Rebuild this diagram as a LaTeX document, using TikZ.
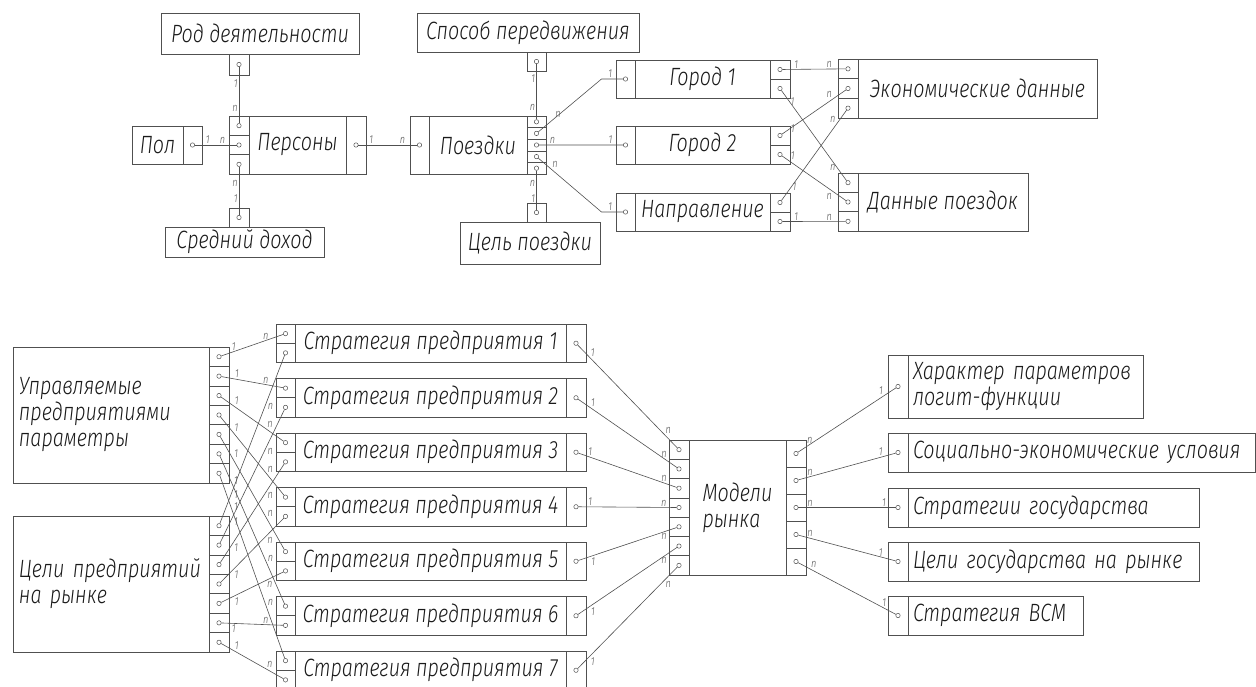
\documentclass[tikz,border=0pt]{standalone}
\usepackage{fontspec}
\newfontfamily\gost{Fira Sans Light Italic}[FakeStretch=0.79]
\usetikzlibrary{calc}
\definecolor{ln}{HTML}{505050}
\definecolor{tx}{HTML}{1A1A1A}
\tikzset{
  body/.style={draw=ln, line width=.6pt, inner sep=0pt, text=tx,
    font=\gost\fontsize{25}{26}\selectfont},
  cell/.style={draw=ln, line width=.6pt, inner sep=0pt},
  port/.style={circle, draw=ln, fill=white, line width=.5pt, inner sep=0pt, minimum size=4.4pt},
  wire/.style={draw=ln, line width=.6pt},
  lab/.style={inner sep=1pt, text=ln, font=\gost\fontsize{11.5}{11.5}\selectfont}
}
% a strip of cells, each with a port: name, x, top, height, count, width
\newcommand\portstrip[6]{%
  \pgfmathsetmacro\cellh{#4/#5}
  \foreach \i in {1,...,#5}{
    \node[cell, minimum width=#6pt, minimum height=\cellh pt] (#1c\i) at (#2,#3+\cellh*\i-\cellh/2) {};
    \node[port] (#1\i) at (#1c\i.center) {};
  }}
\begin{document}
\begin{tikzpicture}[x=1pt, y=-1pt]
\useasboundingbox (0,0) rectangle (1256,686);
% persons
\node[body, minimum width=198pt, minimum height=41pt] (rod) at (260,33.5) {Род деятельности};
\portstrip{rodB}{239}{54}{21}{1}{20}
\node[body, minimum width=97pt, minimum height=58pt] (pers) at (297.5,145) {Персоны};
\portstrip{persL}{239}{116}{58}{3}{20}
\portstrip{persR}{356}{116}{58}{1}{20}
\node[body, minimum width=51pt, minimum height=38pt] (pol) at (157.5,145) {Пол};
\portstrip{polR}{192.5}{126}{38}{1}{19}
\portstrip{sredT}{239}{208}{19}{1}{20}
\node[body, minimum width=159pt, minimum height=30pt] (sred) at (244.5,242) {Средний доход};
% trips
\node[body, minimum width=98pt, minimum height=58pt] (poez) at (478,145) {Поездки};
\portstrip{poezL}{419.5}{116}{58}{1}{19}
\portstrip{poezR}{536.5}{116}{58}{5}{19}
\node[body, minimum width=222pt, minimum height=39pt] (spos) at (528,32.5) {Способ передвижения};
\portstrip{sposB}{536.5}{52}{19}{1}{19}
\portstrip{celT}{536.5}{203}{19}{1}{19}
\node[body, minimum width=140pt, minimum height=42pt] (cel) at (530,243) {Цель поездки};
% cities and direction
\node[body, minimum width=135pt, minimum height=38pt] (gorA) at (702.5,79) {Город 1};
\portstrip{gorAL}{625.5}{60}{38}{1}{19}
\portstrip{gorAR}{780}{60}{38}{2}{20}
\node[body, minimum width=135pt, minimum height=38pt] (gorB) at (702.5,145) {Город 2};
\portstrip{gorBL}{625.5}{126}{38}{1}{19}
\portstrip{gorBR}{780}{126}{38}{2}{20}
\node[body, minimum width=135pt, minimum height=38pt] (napr) at (702.5,212) {Направление};
\portstrip{naprL}{625.5}{193}{38}{1}{19}
\portstrip{naprR}{780}{193}{38}{2}{20}
\node[body, minimum width=239pt, minimum height=59pt] (ekon) at (977.5,88.5) {Экономические данные};
\portstrip{ekonL}{848}{59}{59}{3}{20}
\node[body, minimum width=170pt, minimum height=58pt] (dan) at (943,202) {Данные поездок};
\portstrip{danL}{848}{173}{58}{3}{20}

\draw[wire] (rodB1) -- node[lab, pos=.3, left]{1} node[lab, pos=.73, left]{n} (persL1);
\draw[wire] (polR1) -- node[lab, pos=.31, above]{1} node[lab, pos=.66, above]{n} (persL2);
\draw[wire] (persL3) -- node[lab, pos=.35, left]{n} node[lab, pos=.67, left]{1} (sredT1);
\draw[wire] (persR1) -- node[lab, pos=.22, above]{1} node[lab, pos=.75, above]{n} (poezL1);
\draw[wire] (sposB1) -- node[lab, pos=.27, left]{1} node[lab, pos=.79, left]{n} (poezR1);
\draw[wire] (poezR2) -- node[lab, pos=.25, above right]{n} ([xshift=-24pt]gorAL1.center)
  -- node[lab, pos=.4, above]{1} (gorAL1);
\draw[wire] (poezR3) -- node[lab, pos=.16, above]{n} node[lab, pos=.85, above]{1} (gorBL1);
\draw[wire] (poezR4) -- node[lab, pos=.2, above right]{n} ([xshift=-24pt]naprL1.center)
  -- node[lab, pos=.4, above]{1} (naprL1);
\draw[wire] (poezR5) -- node[lab, pos=.33, left]{n} node[lab, pos=.72, left]{1} (celT1);
\draw[wire] (gorAR1) -- node[lab, pos=.22, above]{1} node[lab, pos=.74, above]{n} (ekonL1);
\draw[wire] (gorAR2) -- node[lab, pos=.12, right]{1} node[lab, pos=.85, left]{n} (danL1);
\draw[wire] (gorBR1) -- node[lab, pos=.12, right]{1} node[lab, pos=.8, above left]{n} (ekonL2);
\draw[wire] (gorBR2) -- node[lab, pos=.12, above right]{1} node[lab, pos=.8, below left]{n} (danL2);
\draw[wire] (naprR1) -- node[lab, pos=.15, right]{1} node[lab, pos=.85, above left]{n} (ekonL3);
\draw[wire] (naprR2) -- node[lab, pos=.22, above]{1} node[lab, pos=.74, above]{n} (danL3);

% market model
\node[body, align=left, text width=184pt, inner xsep=6pt, minimum height=136pt] (upr) at (111,415)
  {\mbox{Управляемые}\\\mbox{предприятиями}\\\mbox{параметры}};
\portstrip{uprR}{219}{347}{136}{7}{20}
\node[body, align=left, text width=184pt, inner xsep=6pt, minimum height=136pt] (celi) at (111,584)
  {\mbox{Цели предприятий}\\\mbox{на рынке}};
\portstrip{celiR}{219}{516}{136}{7}{20}
\foreach \k in {1,...,7}{
  \node[body, minimum width=271pt, minimum height=38.5pt] (str\k) at (430.5,343.25+54.5*\k-54.5)
    {Стратегия предприятия \k};
  \portstrip{strL\k}{285.5}{324+54.5*\k-54.5}{38.5}{2}{19}
  \portstrip{strR\k}{576}{324+54.5*\k-54.5}{38.5}{1}{20}
}
\node[body, align=left, minimum width=97pt, minimum height=135pt] (mod) at (737.5,507.5) {Модели\\рынка};
\portstrip{modL}{679}{440}{135}{7}{20}
\portstrip{modR}{796}{440}{135}{5}{20}
\node[body, align=left, text width=225pt, inner xsep=5pt, minimum height=63pt] (out1) at (1025.5,386.5)
  {\mbox{Характер параметров}\\\mbox{логит-функции}};
\portstrip{outL1}{898}{355}{63}{1}{20}
\node[body, align=left, text width=337pt, inner xsep=5pt, minimum height=39pt] (out2) at (1081.5,452.5)
  {\mbox{Социально-экономические условия}};
\portstrip{outL2}{898}{433}{39}{1}{20}
\node[body, align=left, text width=281pt, inner xsep=5pt, minimum height=39pt] (out3) at (1053.5,507.5)
  {\mbox{Стратегии государства}};
\portstrip{outL3}{898}{488}{39}{1}{20}
\node[body, align=left, text width=281pt, inner xsep=5pt, minimum height=39pt] (out4) at (1053.5,561.5)
  {\mbox{Цели государства на рынке}};
\portstrip{outL4}{898}{542}{39}{1}{20}
\node[body, align=left, text width=165pt, inner xsep=5pt, minimum height=39pt] (out5) at (995.5,615.5)
  {\mbox{Стратегия ВСМ}};
\portstrip{outL5}{898}{596}{39}{1}{20}

\foreach \k/\aa/\ab in {1/south/south, 2/south west/south, 3/south west/south west,
    4/south west/south west, 5/south west/south west, 6/south west/south west, 7/south west/south west}
  \draw[wire] (uprR\k) -- node[lab, pos=.2, anchor=\aa]{1} node[lab, pos=.72, anchor=\ab]{n} (strL\k1);
\foreach \k/\aa/\ab in {1/north west/north west, 2/north west/north west, 3/north west/north west,
    4/north west/north west, 5/north west/north west, 6/north/south, 7/south west/south west}
  \draw[wire] (celiR\k) -- node[lab, pos=.2, anchor=\aa]{1} node[lab, pos=.72, anchor=\ab]{n} (strL\k2);
\foreach \k/\aa/\ab in {1/south west/south west, 2/south west/south, 3/south/south, 4/south/south,
    5/north west/north, 6/north west/north, 7/north west/north west}
  \draw[wire] (strR\k1) -- node[lab, pos=.12, anchor=\aa]{1} node[lab, pos=.87, anchor=\ab]{n} (modL\k);
\foreach \j/\aa/\ab in {1/south/south east, 2/south/south east, 3/south/south,
    4/south/south east, 5/south west/south}
  \draw[wire] (modR\j) -- node[lab, pos=.12, anchor=\aa]{n} node[lab, pos=.88, anchor=\ab]{1} (outL\j1);
\end{tikzpicture}
\end{document}
